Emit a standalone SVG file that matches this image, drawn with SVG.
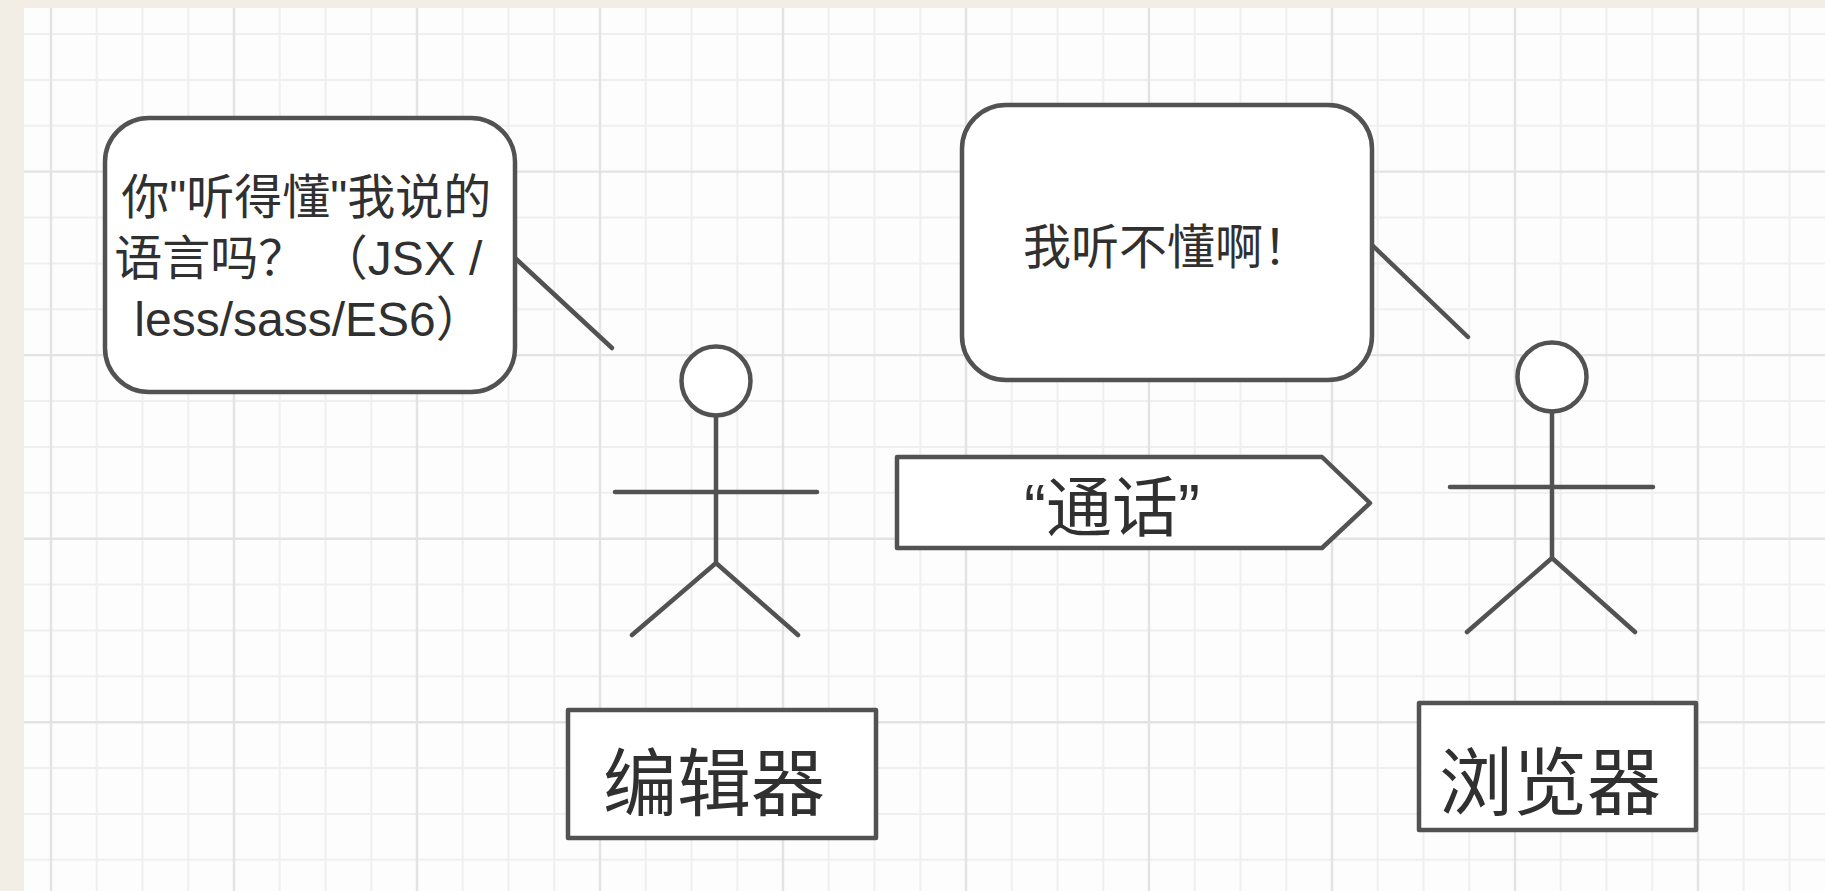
<svg xmlns="http://www.w3.org/2000/svg" width="1825" height="891" viewBox="0 0 1825 891">
  <style>
    .grid-minor { stroke: #efefef; stroke-width: 2; fill: none; }
    .grid-major { stroke: #e3e3e3; stroke-width: 2.4; fill: none; }
    .shape { fill: #ffffff; stroke: #525252; stroke-width: 4.5; stroke-linejoin: round; }
    .limb { fill: none; stroke: #525252; stroke-width: 4.5; stroke-linecap: round; }
    .head { fill: #ffffff; stroke: #525252; stroke-width: 4.5; }
    .tail { fill: none; stroke: #525252; stroke-width: 4.5; stroke-linecap: round; }
    .txt { font-family: "Liberation Sans", "Noto Sans CJK SC", sans-serif; fill: #303030; text-anchor: middle; }
  </style>

  <!-- paper margin and canvas -->
  <rect x="0" y="0" width="1825" height="891" fill="#f2eee5"/>
  <rect x="24" y="8" width="1801" height="883" fill="#fdfdfd"/>

  <!-- background grid -->
  <g id="grid">
    <path class="grid-minor" d="M96.75 8V891M142.5 8V891M188.25 8V891M279.75 8V891M325.5 8V891M371.25 8V891M462.75 8V891M508.5 8V891M554.25 8V891M645.75 8V891M691.5 8V891M737.25 8V891M828.75 8V891M874.5 8V891M920.25 8V891M1011.75 8V891M1057.5 8V891M1103.25 8V891M1194.75 8V891M1240.5 8V891M1286.25 8V891M1377.75 8V891M1423.5 8V891M1469.25 8V891M1560.75 8V891M1606.5 8V891M1652.25 8V891M1743.75 8V891M1789.5 8V891"/>
    <path class="grid-minor" d="M24 34H1825M24 79.88H1825M24 125.76H1825M24 217.52H1825M24 263.4H1825M24 309.28H1825M24 401.04H1825M24 446.92H1825M24 492.8H1825M24 584.56H1825M24 630.44H1825M24 676.32H1825M24 768.08H1825M24 813.96H1825M24 859.84H1825"/>
    <path class="grid-major" d="M51 8V891M234 8V891M417 8V891M600 8V891M783 8V891M966 8V891M1149 8V891M1332 8V891M1515 8V891M1698 8V891"/>
    <path class="grid-major" d="M24 171.64H1825M24 355.16H1825M24 538.68H1825M24 722.2H1825"/>
  </g>

  <!-- speech bubble tails -->
  <g id="connectors">
    <line class="tail" x1="515" y1="258" x2="612" y2="348"/>
    <line class="tail" x1="1372" y1="245" x2="1468" y2="337"/>
  </g>

  <g id="bubble-editor">
    <rect class="shape" x="105" y="118" width="410" height="274" rx="44" ry="44"/>
    <text class="txt" font-size="48">
      <tspan x="313" y="214">你"听得懂"我说的</tspan>
      <tspan x="305" y="275">语言吗？ （JSX /</tspan>
      <tspan x="309" y="336">less/sass/ES6）</tspan>
    </text>
  </g>

  <g id="bubble-browser">
    <rect class="shape" x="962" y="105" width="410" height="275" rx="44" ry="44"/>
    <text class="txt" font-size="48" x="1167" y="264">我听不懂啊！</text>
  </g>

  <g id="actor-editor">
    <circle class="head" cx="716" cy="381" r="34.5"/>
    <path class="limb" d="M716 416V563M615 492H817M716 563L632 635M716 563L798 635"/>
  </g>

  <g id="actor-browser">
    <circle class="head" cx="1552" cy="377" r="34.5"/>
    <path class="limb" d="M1552 412V558M1450 487H1653M1552 558L1467 632M1552 558L1635 632"/>
  </g>

  <g id="call">
    <polygon class="shape" points="897,457 1322,457 1370,503 1322,548 897,548"/>
    <text class="txt" font-size="66" x="1112" y="531">“通话”</text>
  </g>

  <g id="label-editor">
    <rect class="shape" x="568" y="710" width="308" height="128"/>
    <text class="txt" font-size="74" x="714" y="810">编辑器</text>
  </g>

  <g id="label-browser">
    <rect class="shape" x="1419" y="703" width="277" height="127"/>
    <text class="txt" font-size="74" x="1550" y="809">浏览器</text>
  </g>
</svg>
